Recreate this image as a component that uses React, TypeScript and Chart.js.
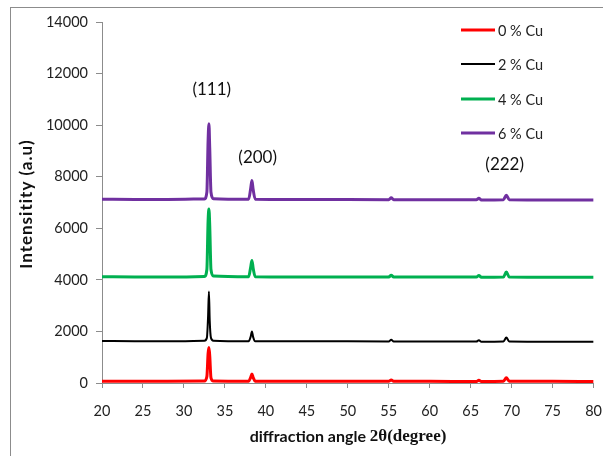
import React, { useEffect, useRef } from "react";
import { Chart, registerables } from "chart.js";

Chart.register(...registerables);

// 2θ sample positions (degrees)
const angles = [20, 24, 28, 32.5, 32.8, 32.95, 33.05, 33.15, 33.3, 33.6, 37.9, 38.15, 38.3, 38.45, 38.7, 45, 55.0, 55.3, 55.6, 60, 65.7, 66.0, 66.3, 69.0, 69.35, 69.7, 75, 80];

const cu0 = [70, 65, 70, 75, 250, 1150, 1380, 1050, 200, 80, 70, 220, 350, 210, 70, 65, 65, 120, 65, 65, 60, 110, 60, 70, 200, 70, 65, 60];
const cu2 = [1630, 1620, 1620, 1640, 1750, 2600, 3550, 2400, 1750, 1640, 1620, 1800, 2000, 1780, 1620, 1620, 1610, 1680, 1610, 1610, 1610, 1660, 1600, 1610, 1760, 1610, 1600, 1600];
const cu4 = [4120, 4110, 4110, 4130, 4400, 6300, 6750, 6100, 4400, 4150, 4120, 4500, 4750, 4450, 4120, 4110, 4110, 4180, 4110, 4110, 4110, 4170, 4100, 4110, 4300, 4110, 4100, 4100];
const cu6 = [7130, 7120, 7120, 7140, 7400, 9400, 10050, 9100, 7400, 7150, 7130, 7550, 7850, 7500, 7130, 7120, 7110, 7180, 7110, 7110, 7110, 7160, 7100, 7110, 7280, 7110, 7100, 7100];

const seriesLabels = ["0 % Cu", "2 % Cu", "4 % Cu", "6 % Cu"];
const seriesColors = ["#ff0000", "#000000", "#00b050", "#7030a0"];
const seriesWidths = [3, 2, 3, 3];

const peakLabels = ["(111)", "(200)", "(222)"];
const peakLabelX = [33.4, 39.0, 69.15];
const peakLabelY = [11400, 8750, 8470];

const xTitleA = "diffraction angle ";
const xTitleB = "2θ(degree)";
const yTitle = "Intensitity (a.u)";

const FONT = "Lato";

export default function App() {
  const ref = useRef<HTMLCanvasElement | null>(null);

  useEffect(() => {
    if (!ref.current) return;
    const seriesData = [cu0, cu2, cu4, cu6];

    const decor = {
      id: "decor",
      beforeDraw(chart: any) {
        const ctx = chart.ctx;
        ctx.save();
        ctx.fillStyle = "#ffffff";
        ctx.fillRect(0, 0, chart.width, chart.height);
        ctx.strokeStyle = "#8c8c8c";
        ctx.lineWidth = 1;
        ctx.strokeRect(10.5, 7.5, 700, 600);
        ctx.restore();
      },
      afterDraw(chart: any) {
        const ctx = chart.ctx;
        const xs = chart.scales.x;
        const ys = chart.scales.y;
        ctx.save();
        // peak labels
        ctx.fillStyle = "#111";
        ctx.font = `17px ${FONT}`;
        ctx.textAlign = "center";
        ctx.textBaseline = "middle";
        for (let i = 0; i < peakLabels.length; i++) {
          ctx.fillText(peakLabels[i], xs.getPixelForValue(peakLabelX[i]), ys.getPixelForValue(peakLabelY[i]));
        }
        // legend
        const lx0 = 461, lx1 = 495, ly = [30, 64, 99, 133];
        ctx.font = `14.5px ${FONT}`;
        ctx.textAlign = "left";
        for (let i = 0; i < seriesLabels.length; i++) {
          ctx.strokeStyle = seriesColors[i];
          ctx.lineWidth = seriesWidths[i];
          ctx.beginPath();
          ctx.moveTo(lx0, ly[i]);
          ctx.lineTo(lx1, ly[i]);
          ctx.stroke();
          ctx.fillStyle = "#222";
          ctx.fillText(seriesLabels[i], 498, ly[i] + 1);
        }
        // x title
        ctx.fillStyle = "#111";
        ctx.font = `bold 16px ${FONT}`;
        const wA = ctx.measureText(xTitleA).width;
        ctx.font = `bold 17px 'Liberation Serif'`;
        const wB = ctx.measureText(xTitleB).width;
        const start = 348 - (wA + wB) / 2;
        ctx.font = `bold 16px ${FONT}`;
        ctx.fillText(xTitleA, start, 437);
        ctx.font = `bold 17px 'Liberation Serif'`;
        ctx.fillText(xTitleB, start + wA, 437);
        // y title
        ctx.translate(27, 204);
        ctx.rotate(-Math.PI / 2);
        ctx.textAlign = "center";
        ctx.font = `bold 17px ${FONT}`;
        (ctx as any).letterSpacing = "1px";
        ctx.fillText(yTitle, 0, 0);
        ctx.restore();
      },
    };

    const chart = new Chart(ref.current, {
      type: "line",
      data: {
        labels: angles,
        datasets: seriesData.map((d, i) => ({
          label: seriesLabels[i],
          data: d.map((v, j) => ({ x: angles[j], y: v })),
          borderColor: seriesColors[i],
          backgroundColor: seriesColors[i],
          borderWidth: seriesWidths[i],
          pointRadius: 0,
          cubicInterpolationMode: "monotone" as const,
          fill: false,
        })),
      },
      options: {
        responsive: false,
        animation: false,
        layout: { padding: { left: 0, top: 22, right: 9, bottom: 0 } },
        plugins: { legend: { display: false }, tooltip: { enabled: false } },
        scales: {
          x: {
            type: "linear",
            min: 20,
            max: 80,
            ticks: { stepSize: 5, color: "#222", font: { family: FONT, size: 14.5, lineHeight: 3.13 }, padding: 1, maxRotation: 0, callback: (v: any) => String(v) },
            grid: { drawOnChartArea: false, drawTicks: true, tickLength: 5, color: "#8c8c8c" },
            border: { display: true, color: "#8c8c8c" },
            afterFit: (s: any) => { s.height = 73; },
          },
          y: {
            min: 0,
            max: 14000,
            ticks: { stepSize: 2000, color: "#222", font: { family: FONT, size: 14.5 }, padding: 8, callback: (v: any) => String(v) },
            grid: { drawOnChartArea: false, drawTicks: true, tickLength: 6, color: "#8c8c8c" },
            border: { display: true, color: "#8c8c8c" },
            afterFit: (s: any) => { s.width = 102; },
          },
        },
      },
      plugins: [decor],
    });
    return () => chart.destroy();
  }, []);

  return (
    <div style={{ position: "absolute", left: 0, top: 0, width: 603, height: 456 }}>
      <canvas ref={ref} width={603} height={456} />
    </div>
  );
}
